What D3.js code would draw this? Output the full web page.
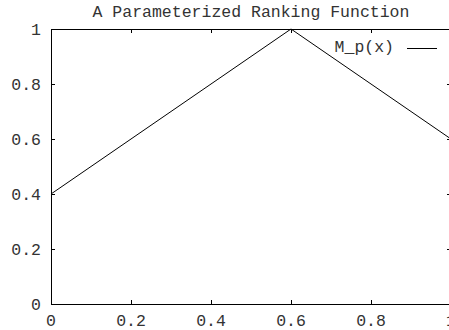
<!DOCTYPE html>
<html>
<head>
<meta charset="UTF-8">
<title>A Parameterized Ranking Function</title>
<style>
    body { margin: 0; background: #fff; overflow: hidden; }
    text { font-family: "Liberation Mono", "DejaVu Sans Mono", monospace; font-size: 16.5px; fill: #333; }
    .frame { fill: none; stroke: #000; stroke-width: 1px; }
    .tick line { stroke: #000; }
</style>
<script src="https://d3js.org/d3.v7.min.js"></script>
</head>
<body>
<div id="chart"></div>
<script>
    var xValues = [0, 0.6, 1];
    var yValues = [0.4, 1, 0.6];
    var xTicks = [0, 0.2, 0.4, 0.6, 0.8, 1];
    var yTicks = [0, 0.2, 0.4, 0.6, 0.8, 1];
    var title = "A Parameterized Ranking Function";
    var seriesName = "M_p(x)";

    var W = 449, H = 330;
    var plotLeft = 51, plotRight = 451, plotTop = 29, plotBottom = 304;

    var x = d3.scaleLinear().domain([0, 1]).range([plotLeft, plotRight]);
    var y = d3.scaleLinear().domain([0, 1]).range([plotBottom, plotTop]);

    var svg = d3.select("#chart").append("svg")
        .attr("width", W)
        .attr("height", H);

    // frame
    svg.append("rect")
        .attr("class", "frame")
        .attr("x", plotLeft + 0.5)
        .attr("y", plotTop + 0.5)
        .attr("width", plotRight - plotLeft)
        .attr("height", plotBottom - plotTop);

    // ticks, inward, mirrored like gnuplot
    var tickLen = 4;
    var g = svg.append("g").attr("class", "tick");
    xTicks.forEach(function(t) {
        var px = Math.round(x(t)) + 0.5;
        g.append("line").attr("x1", px).attr("x2", px).attr("y1", plotBottom).attr("y2", plotBottom - tickLen);
        g.append("line").attr("x1", px).attr("x2", px).attr("y1", plotTop).attr("y2", plotTop + tickLen);
        svg.append("text")
            .attr("x", x(t))
            .attr("y", 326)
            .attr("text-anchor", "middle")
            .text(t);
    });
    yTicks.forEach(function(t) {
        var py = Math.round(y(t)) + 0.5;
        g.append("line").attr("x1", plotLeft).attr("x2", plotLeft + tickLen).attr("y1", py).attr("y2", py);
        g.append("line").attr("x1", plotRight).attr("x2", plotRight - tickLen).attr("y1", py).attr("y2", py);
        svg.append("text")
            .attr("x", 41)
            .attr("y", y(t) + 6)
            .attr("text-anchor", "end")
            .text(t);
    });

    // title
    svg.append("text")
        .attr("x", (plotLeft + plotRight) / 2)
        .attr("y", 17)
        .attr("text-anchor", "middle")
        .text(title);

    // the line
    var pts = xValues.map(function(d, i) { return [d, yValues[i]]; });
    svg.append("path")
        .datum(pts)
        .attr("fill", "none")
        .attr("stroke", "#000")
        .attr("stroke-width", 1)
        .attr("d", d3.line().x(function(d) { return x(d[0]); }).y(function(d) { return y(d[1]); }));

    // key
    svg.append("text")
        .attr("x", 394)
        .attr("y", 52)
        .attr("text-anchor", "end")
        .text(seriesName);
    svg.append("line")
        .attr("x1", 407).attr("x2", 437)
        .attr("y1", 48.5).attr("y2", 48.5)
        .attr("stroke", "#000");
</script>
</body>
</html>
